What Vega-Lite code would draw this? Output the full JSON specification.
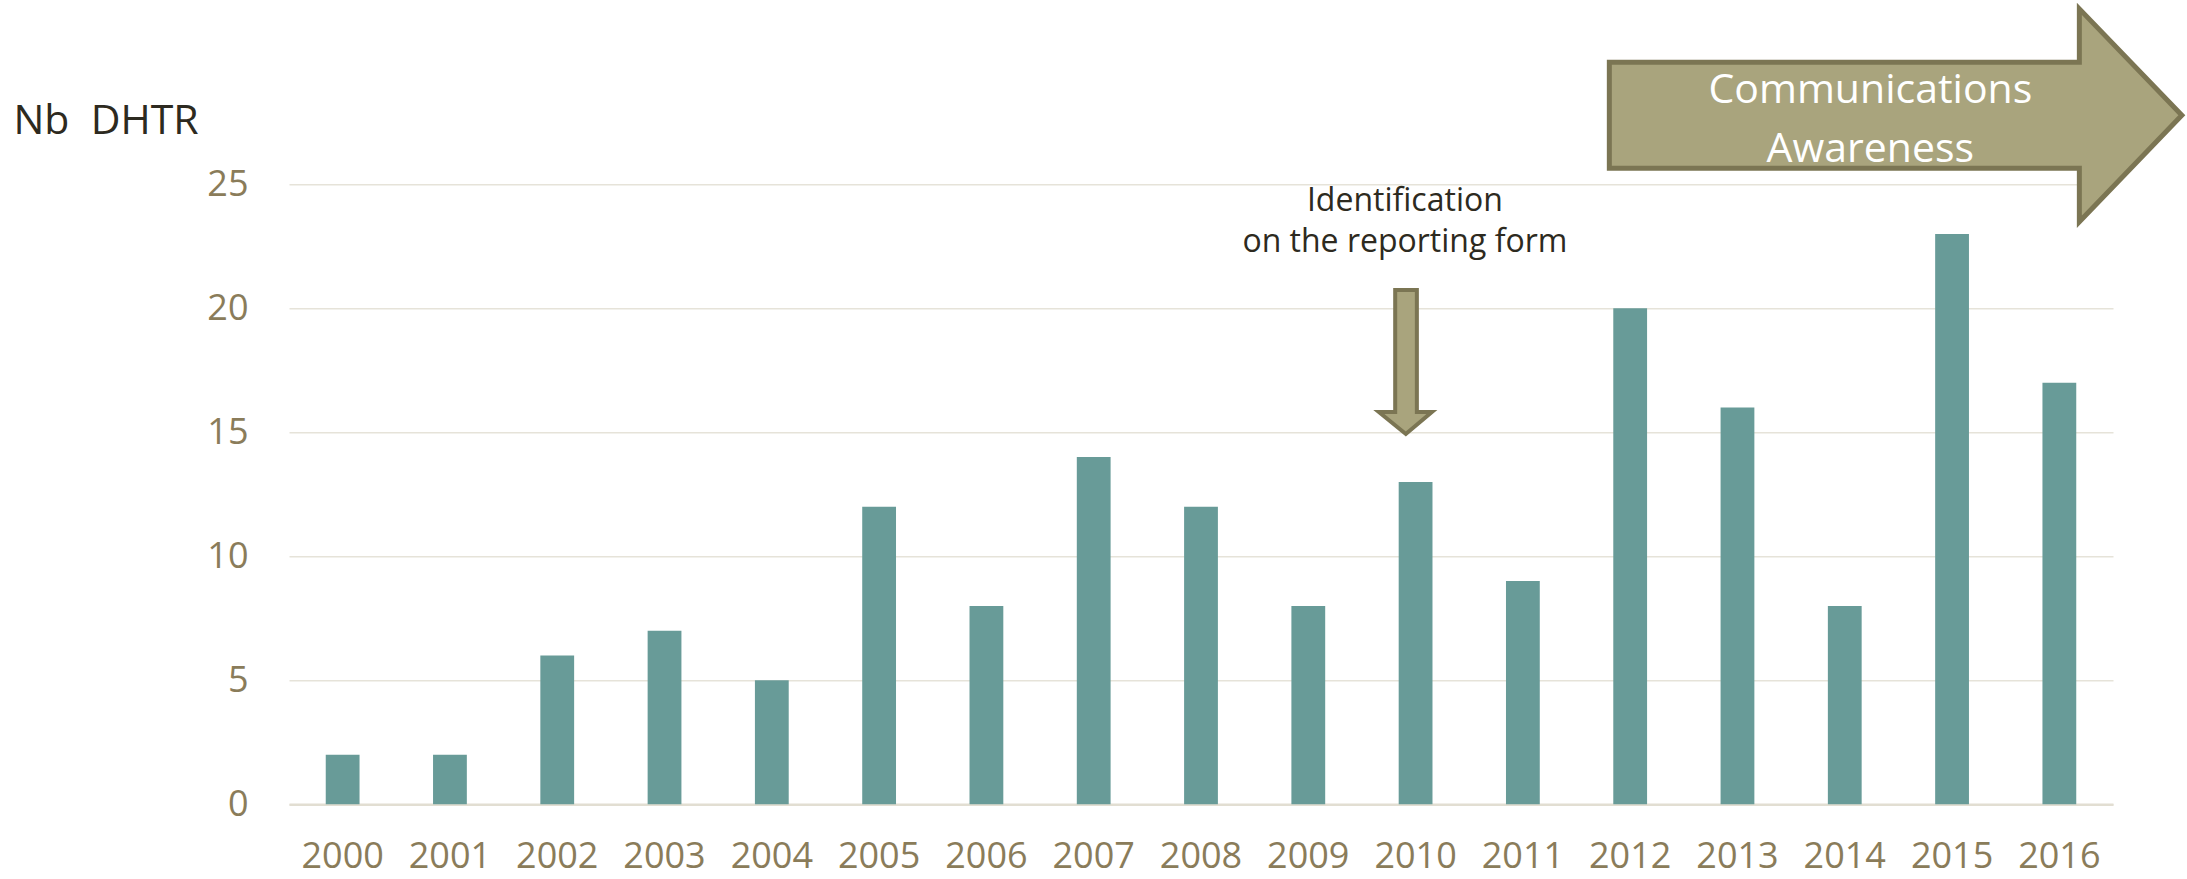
{
  "$schema": "https://vega.github.io/schema/vega-lite/v6.json",
  "width": 1824,
  "height": 620,
  "autosize": "none",
  "padding": {"left": 289, "top": 184.3, "right": 74, "bottom": 74.7},
  "background": "#ffffff",
  "config": {"view": {"stroke": null}, "font": "Open Sans"},
  "encoding": {
    "x": {
      "field": "year", "type": "nominal",
      "scale": {"paddingInner": 0.685, "paddingOuter": 0.3425},
      "axis": {
        "title": null, "labelAngle": 0, "labelFont": "Open Sans", "labelFontSize": 36,
        "labelColor": "#8A7C5A", "labelPadding": 35, "ticks": false, "tickSize": 0,
        "domainColor": "#E2DED2", "domainWidth": 2.5, "grid": false
      }
    },
    "y": {
      "field": "value", "type": "quantitative",
      "scale": {"domain": [0, 25], "nice": false, "zero": true},
      "axis": {
        "values": [0, 5, 10, 15, 20, 25],
        "title": "Nb\u00a0\u00a0DHTR", "titleAngle": 0, "titleX": -276, "titleY": -51.3,
        "titleAlign": "left", "titleBaseline": "alphabetic", "titleFont": "Open Sans",
        "titleFontSize": 41, "titleFontWeight": "normal", "titleColor": "#2D2A20",
        "labelFont": "Open Sans", "labelFontSize": 36, "labelColor": "#8A7C5A", "labelPadding": 41,
        "ticks": false, "tickSize": 0, "domain": false,
        "grid": true, "gridColor": "#E6E3D9", "gridWidth": 1.5
      }
    }
  },
  "layer": [
    {
      "data": {"values": [
        {"year": "2000", "value": 2},
        {"year": "2001", "value": 2},
        {"year": "2002", "value": 6},
        {"year": "2003", "value": 7},
        {"year": "2004", "value": 5},
        {"year": "2005", "value": 12},
        {"year": "2006", "value": 8},
        {"year": "2007", "value": 14},
        {"year": "2008", "value": 12},
        {"year": "2009", "value": 8},
        {"year": "2010", "value": 13},
        {"year": "2011", "value": 9},
        {"year": "2012", "value": 20},
        {"year": "2013", "value": 16},
        {"year": "2014", "value": 8},
        {"year": "2015", "value": 23},
        {"year": "2016", "value": 17}
      ]},
      "mark": {"type": "bar", "color": "#689B98"}
    },
    {
      "data": {"values": [{"year": "2016", "value": 27.78}]},
      "mark": {
        "type": "point",
        "shape": "M -0.9783 -0.1152 L 0.0435 -0.1152 L 0.0435 -0.2315 L 0.2663 0 L 0.0435 0.2315 L 0.0435 0.1152 L -0.9783 0.1152 Z",
        "size": 846400, "filled": true, "fill": "#A9A47D", "stroke": "#7B7553",
        "strokeWidth": 5, "opacity": 1, "fillOpacity": 1, "strokeOpacity": 1
      }
    },
    {
      "data": {"values": [{"year": "2016", "value": 28.28, "label": "Communications\nAwareness"}]},
      "mark": {
        "type": "text", "dx": -189, "align": "center", "baseline": "alphabetic",
        "font": "Open Sans", "fontSize": 41, "color": "#FFFFFF", "lineBreak": "\n", "lineHeight": 59
      },
      "encoding": {"text": {"field": "label"}}
    },
    {
      "data": {"values": [{"year": "2010", "value": 17.835}]},
      "mark": {
        "type": "point",
        "shape": "M -0.255 -0.9 L 0.016 -0.9 L 0.016 0.625 L 0.204 0.625 L -0.122 0.9 L -0.459 0.625 L -0.255 0.625 Z",
        "size": 25600, "filled": true, "fill": "#A9A47D", "stroke": "#7B7553",
        "strokeWidth": 4, "opacity": 1, "fillOpacity": 1, "strokeOpacity": 1
      }
    },
    {
      "data": {"values": [{"year": "2010", "value": 23.92, "label": "Identification\non the reporting form"}]},
      "mark": {
        "type": "text", "dx": -10.7, "align": "center", "baseline": "alphabetic",
        "font": "Open Sans", "fontSize": 32, "color": "#2D2A20", "lineBreak": "\n", "lineHeight": 41
      },
      "encoding": {"text": {"field": "label"}}
    }
  ]
}
